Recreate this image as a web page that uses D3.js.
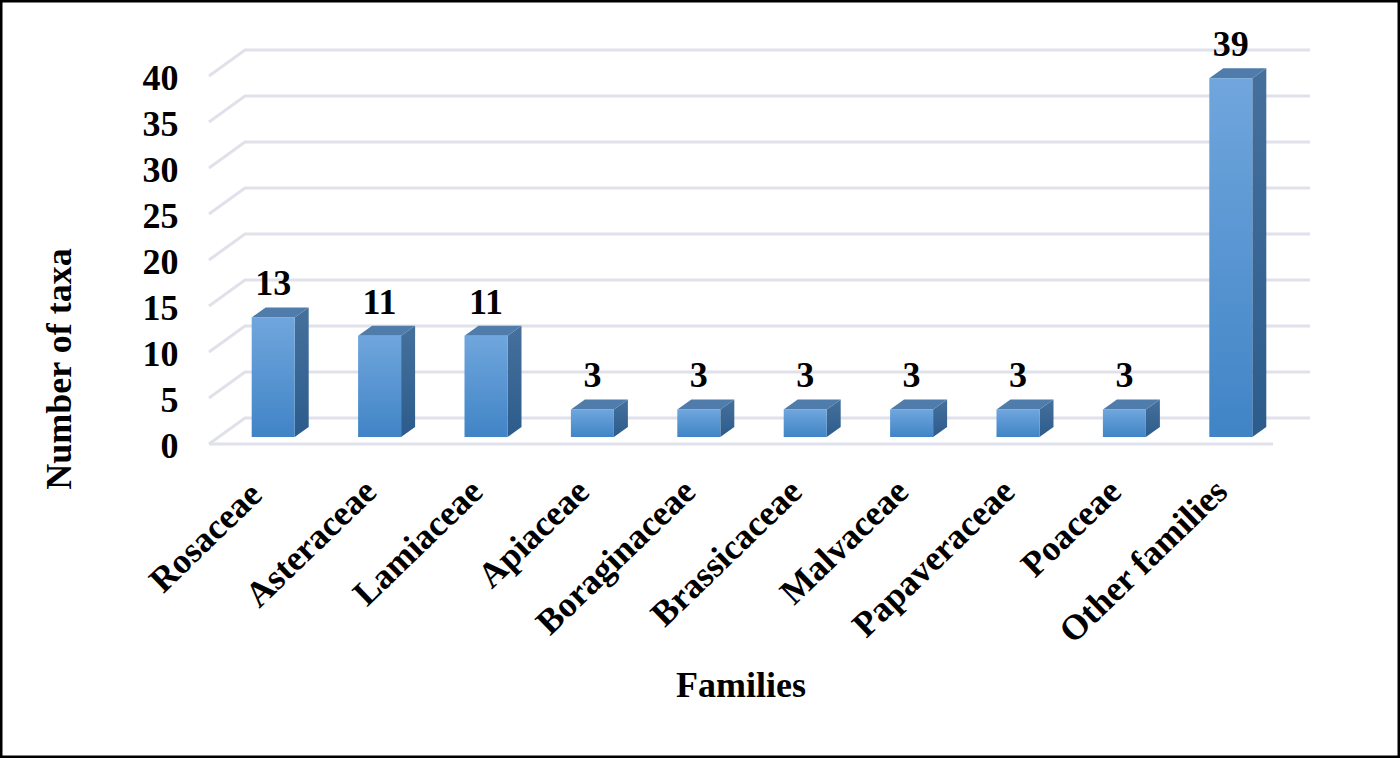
<!DOCTYPE html>
<html><head><meta charset="utf-8">
<script src="https://cdn.jsdelivr.net/npm/d3@7"></script>
<style>html,body{margin:0;padding:0;background:#fff}svg{display:block}text{font-family:"Liberation Serif",serif;font-weight:bold;fill:#000}</style>
</head><body><svg id="c" width="1400" height="758"></svg>
<script>
const categories=["Rosaceae","Asteraceae","Lamiaceae","Apiaceae","Boraginaceae","Brassicaceae","Malvaceae","Papaveraceae","Poaceae","Other families"];
const values=[13,11,11,3,3,3,3,3,3,39];
const yTicks=[0,5,10,15,20,25,30,35,40];
const xTitle="Families", yTitle="Number of taxa";

const svg=d3.select("#c");
svg.append("rect").attr("x",1).attr("y",1).attr("width",1398).attr("height",756).attr("fill","#fff").attr("stroke","#000").attr("stroke-width",3);

const defs=svg.append("defs");
function grad(id,a,b){const g=defs.append("linearGradient").attr("id",id).attr("x1",0).attr("y1",0).attr("x2",0).attr("y2",1);
 g.append("stop").attr("offset",0).attr("stop-color",a);g.append("stop").attr("offset",1).attr("stop-color",b);}
grad("front","#70a6dd","#4084c6");grad("side","#46709c","#2c5c8c");

const floorL=209,floorR=1273,wallDx=36,wallDy=-26;
const y0=444;
const fs=36;
const yScale=d3.scaleLinear().domain([0,40]).range([y0,y0-368]);
const xScale=d3.scaleBand().domain(categories).range([floorL+11,floorL+11+1064]).paddingInner(0.6).paddingOuter(0.3).align(0.5);
const bandW=43;
const barX=d=>xScale(d)+xScale.bandwidth()/2-bandW/2;
const barBase=7, dx=14, dy=-10;
const gridColor="#e0e1eb";

const plot=svg.append("g");
plot.selectAll("path.grid").data(yTicks).join("path").attr("class","grid")
 .attr("d",t=>{const p=yScale(t);return `M${floorL},${p}L${floorL+wallDx},${p+wallDy}H${floorR+wallDx+1}`;})
 .attr("fill","none").attr("stroke",gridColor).attr("stroke-width",3);
plot.append("path").attr("d",`M${floorL},${y0}H${floorR}`).attr("fill","none").attr("stroke",gridColor).attr("stroke-width",3);

const bars=plot.selectAll("g.bar").data(categories.map((c,i)=>({c,v:values[i]}))).join("g").attr("class","bar");
const barTop=d=>yScale(d.v)-barBase, base=y0-barBase;
bars.append("path").attr("fill","url(#side)")
 .attr("d",d=>{const r=barX(d.c)+bandW;return `M${r},${barTop(d)}L${r+dx},${barTop(d)+dy}V${base+dy}L${r},${base}Z`;});
bars.append("path").attr("fill","#4f7cab")
 .attr("d",d=>{const l=barX(d.c);return `M${l},${barTop(d)}L${l+dx},${barTop(d)+dy}H${l+bandW+dx}L${l+bandW},${barTop(d)}Z`;});
bars.append("rect").attr("fill","url(#front)").attr("x",d=>barX(d.c)).attr("y",barTop).attr("width",bandW).attr("height",d=>base-barTop(d));
bars.append("text").attr("x",d=>barX(d.c)+bandW/2).attr("y",d=>barTop(d)-22).attr("text-anchor","middle").attr("font-size",fs).text(d=>d.v);

svg.append("g").selectAll("text").data(yTicks).join("text").attr("x",178.5).attr("y",t=>yScale(t)+14).attr("text-anchor","end").attr("font-size",fs).text(t=>t);
svg.append("g").selectAll("text").data(categories).join("text")
 .attr("transform",(d,i)=>`translate(${barX(d)+bandW/2-10-(i===0?8:0)},${485+(i===0?3:0)}) rotate(-44)`)
 .attr("text-anchor","end").attr("font-size",35.5).attr("dy",".35em").text(d=>d);
svg.append("text").attr("x",741).attr("y",697).attr("text-anchor","middle").attr("font-size",fs).text(xTitle);
svg.append("text").attr("transform","translate(71,369) rotate(-90)").attr("text-anchor","middle").attr("font-size",fs).text(yTitle);
</script></body></html>
